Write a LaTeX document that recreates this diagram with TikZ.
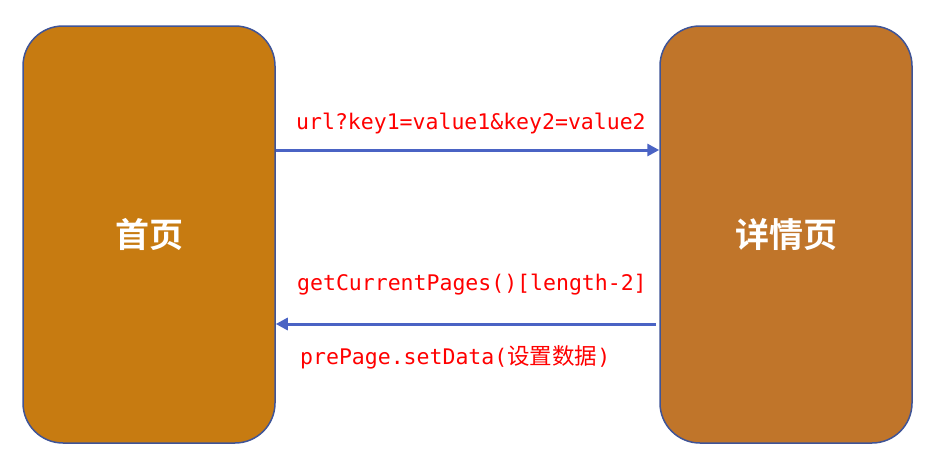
\documentclass[tikz,border=0pt]{standalone}
\usepackage{fontspec}
\setmonofont{DejaVu Sans Mono}
\newfontfamily\cjk{Noto Sans CJK SC}
\newfontfamily\cjkbold{Noto Sans CJK SC Bold}
\usetikzlibrary{arrows.meta}
\definecolor{boxL}{HTML}{C77B11}
\definecolor{boxR}{HTML}{C0752A}
\definecolor{boxedge}{HTML}{3F5497}
\definecolor{arrowblue}{HTML}{4A63C4}
\tikzset{
  pagebox/.style={draw=boxedge, line width=1.5pt, rounded corners=40pt,
    minimum width=252pt, minimum height=417pt, inner sep=0pt,
    font=\cjkbold\fontsize{34}{38}\selectfont, text=white},
  msg/.style={-{Triangle[length=12pt,width=12pt]}, draw=arrowblue, line width=3pt},
  lbl/.style={text=red, font=\ttfamily\fontsize{21.5}{24}\selectfont, inner sep=0pt, anchor=west}
}
\begin{document}
\begin{tikzpicture}[x=1pt,y=-1pt]
\useasboundingbox (0,0) rectangle (925,458);
\node[pagebox, fill=boxL] (home) at (149,234.5) {首页};
\node[pagebox, fill=boxR] (detail) at (786,234.5) {详情页};
\coordinate (startB) at (656,324);
\draw[msg] (home.east |- 0,150) -- (detail.west |- 0,150);
\draw[msg] (startB) -- (home.east |- startB);
\node[lbl] (l1) at (296,124) {url?key1=value1\&key2=value2};
\node[lbl] (l2) at (297,285) {getCurrentPages()[length-2]};
\node[lbl] (l3) at (300,357) {prePage.setData({\cjk\fontsize{22.5}{24}\selectfont 设置数据})};
\end{tikzpicture}
\end{document}
